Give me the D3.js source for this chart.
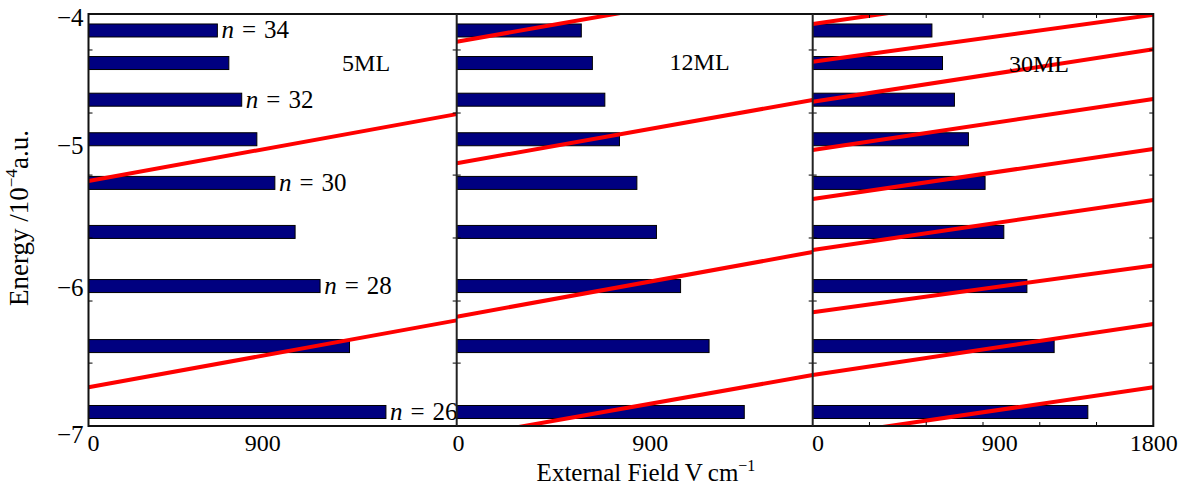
<html>
<head>
  <meta charset="utf-8">
  <title>stark-levels</title>
  <script src="https://d3js.org/d3.v7.min.js"></script>
  <style>
    body { margin: 0; background: #fff; }
    text { font-family: "Liberation Serif", "DejaVu Serif", serif; fill: #000; }
  </style>
</head>
<body>
<script>

    // level data (same bars in all three panels)
    var levels = [26, 27, 28, 29, 30, 31, 32, 33, 34];
    var levelEnergy = [-6.898, -6.418, -5.981, -5.587, -5.230, -4.912, -4.624, -4.357, -4.120];
    var levelField = [1454, 1276, 1132, 1010, 911, 823, 749, 686, 630];
    var labelledLevels = [26, 28, 30, 32, 34];

    // red lines: [energy at 0, energy at 1800]
    var lines5ML = [[-5.216, -4.729], [-6.718, -6.231]];
    var lines12ML = [[-4.202, -3.747], [-5.087, -4.626], [-6.204, -5.733], [-7.087, -6.629]];
    var lines30ML = [[-4.073, -3.714], [-4.347, -4.006], [-4.639, -4.257], [-4.990, -4.619],
                     [-5.347, -4.983], [-5.718, -5.354], [-6.172, -5.831], [-6.629, -6.257],
                     [-7.082, -6.718]];

    var panelNames = ["5ML", "12ML", "30ML"];
    var yTicks = [-4, -5, -6, -7];
    var xTickLabels = [["0", "900"], ["0", "900"], ["0", "900", "1800"]];
    var minorY = [-4.262, -4.721, -5.173, -5.631, -6.090, -6.542];

    var width = 1190, height = 489;
    var plotTop = 14, plotBottom = 426;
    var edges = [88.5, 456.7, 812.7, 1153.3];
    // where the x tick labels sit, in field units
    var xTickAt = [[22, 849], [7, 976], [26, 986, 1800]];
    var namePos = [[1357, -4.415], [1228, -4.41], [1196, -4.42]];
    var yLabelNudge = [3, -6, -1, 8];

    var svg = d3.select('body')
                .append('svg')
                .attr('width', width)
                .attr('height', height);

    var y = d3.scaleLinear().domain([-7, -4]).range([plotBottom, plotTop]);
    var barH = 13;

    var allLines = [lines5ML, lines12ML, lines30ML];

    for (var p = 0; p < 3; p++) {
        var x = d3.scaleLinear().domain([0, 1800]).range([edges[p], edges[p + 1]]);
        var g = svg.append('g');
        var cid = 'clip' + p;
        svg.append('clipPath').attr('id', cid)
           .append('rect').attr('x', edges[p]).attr('y', plotTop)
           .attr('width', edges[p + 1] - edges[p]).attr('height', plotBottom - plotTop);

        g.selectAll('rect.bar')
         .data(levels)
         .enter()
         .append('rect')
         .attr('class', 'bar')
         .attr('x', x(0))
         .attr('y', (d, i) => y(levelEnergy[i]) - barH / 2)
         .attr('width', (d, i) => x(levelField[i]) - x(0))
         .attr('height', barH)
         .attr('fill', '#000080')
         .attr('stroke', '#000')
         .attr('stroke-width', 1);

        g.append('g').attr('clip-path', 'url(#' + cid + ')')
         .selectAll('line')
         .data(allLines[p])
         .enter()
         .append('line')
         .attr('x1', x(0))
         .attr('y1', d => y(d[0]))
         .attr('x2', x(1800))
         .attr('y2', d => y(d[1]))
         .attr('stroke', '#ff0000')
         .attr('stroke-width', 4);

        g.append('text')
         .attr('x', x(namePos[p][0]))
         .attr('y', y(namePos[p][1]))
         .attr('text-anchor', 'middle')
         .attr('font-size', 24)
         .text(panelNames[p]);

        // x tick labels
        var labs = xTickLabels[p];
        var ax = d3.axisBottom(x)
                   .tickValues(xTickAt[p])
                   .tickFormat((d, i) => labs[i])
                   .tickSize(0)
                   .tickPadding(8);
        var axg = svg.append('g').attr('transform', 'translate(0,' + plotBottom + ')').call(ax);
        axg.select('.domain').remove();
        axg.selectAll('text').attr('font-size', 24)
           .attr('font-family', '"Liberation Serif", serif');

        // minor x ticks on last panel
        if (p == 2) {
            var mt = d3.range(300, 1800, 300);
            g.selectAll('line.mb').data(mt).enter().append('line')
             .attr('x1', d => x(d)).attr('x2', d => x(d))
             .attr('y1', plotBottom).attr('y2', plotBottom - 4)
             .attr('stroke', '#000').attr('stroke-width', 1);
            g.selectAll('line.mt').data(mt).enter().append('line')
             .attr('x1', d => x(d)).attr('x2', d => x(d))
             .attr('y1', plotTop).attr('y2', plotTop + 4)
             .attr('stroke', '#000').attr('stroke-width', 1);
        }

        if (p == 0) {
            g.selectAll('text.lv')
             .data(labelledLevels)
             .enter()
             .append('text')
             .attr('x', d => x(levelField[levels.indexOf(d)] + 20))
             .attr('y', d => y(levelEnergy[levels.indexOf(d)]) + 8)
             .attr('font-size', 25)
             .each(function(d) {
                 var t = d3.select(this);
                 t.append('tspan').attr('font-style', 'italic').text('n');
                 t.append('tspan').attr('dx', 8).text('=');
                 t.append('tspan').attr('dx', 8).text(d);
             });
        }
    }

    // minor y ticks across panel borders
    for (var e = 0; e < 4; e++) {
        svg.selectAll(null).data(minorY).enter().append('line')
           .attr('x1', edges[e] - (e > 0 ? 4 : 0))
           .attr('x2', edges[e] + (e < 3 ? 4 : 0))
           .attr('y1', d => y(d)).attr('y2', d => y(d))
           .attr('stroke', '#000').attr('stroke-width', 1);
    }

    // frame and dividers
    svg.append('rect')
       .attr('x', edges[0]).attr('y', plotTop)
       .attr('width', edges[3] - edges[0]).attr('height', plotBottom - plotTop)
       .attr('fill', 'none').attr('stroke', '#111').attr('stroke-width', 2);
    [edges[1], edges[2]].forEach(function(ex) {
        svg.append('line').attr('x1', ex).attr('x2', ex).attr('y1', plotTop).attr('y2', plotBottom)
           .attr('stroke', '#222').attr('stroke-width', 2);
    });

    // y axis labels
    var yax = d3.axisLeft(y).tickValues(yTicks).tickFormat(d3.format('d')).tickSize(0).tickPadding(5);
    var yg = svg.append('g').attr('transform', 'translate(' + edges[0] + ',0)').call(yax);
    yg.select('.domain').remove();
    yg.selectAll('text').attr('font-size', 25).attr('font-family', '"Liberation Serif", serif')
      .attr('transform', (d, i) => 'translate(0,' + yLabelNudge[i] + ')');

    // axis titles
    var yt = svg.append('text')
       .attr('transform', 'translate(28,218) rotate(-90)')
       .attr('text-anchor', 'middle')
       .attr('font-size', 27);
    yt.append('tspan').text('Energy /10');
    yt.append('tspan').attr('font-size', 17).attr('dy', -11).text('\u22124');
    yt.append('tspan').attr('dy', 11).text('a.u.');

    var xt = svg.append('text')
       .attr('x', 646).attr('y', 481)
       .attr('text-anchor', 'middle')
       .attr('font-size', 25);
    xt.append('tspan').text('External Field V\u2009cm');
    xt.append('tspan').attr('font-size', 16).attr('dy', -10).text('\u22121');

</script>
</body>
</html>
